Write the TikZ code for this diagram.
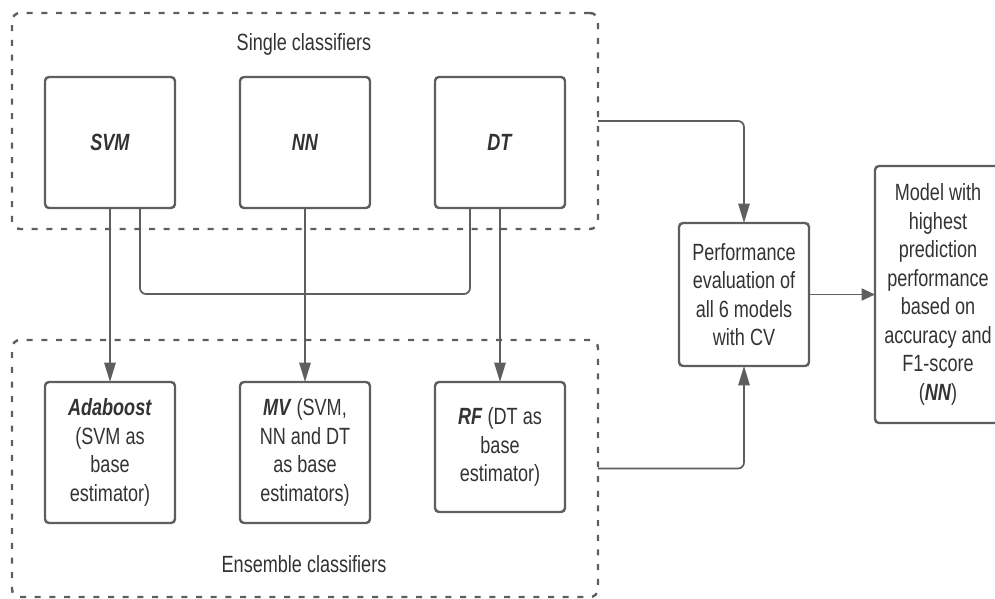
\documentclass[tikz,border=0pt]{standalone}
\usepackage{fontspec}
\setmainfont{Liberation Sans}[FakeStretch=0.77]
\usetikzlibrary{arrows.meta}

\tikzset{every picture/.style={line width=0.75pt}}

\begin{document}
\begin{tikzpicture}[x=0.75pt,y=0.75pt,yscale=-1,xscale=1,
  font=\fontsize{17.6}{21.4}\selectfont,
  text={rgb, 255:red, 51; green, 51; blue, 51 },
  box/.style={draw={rgb, 255:red, 94; green, 94; blue, 94 }, line width=1.8pt, rounded corners=3pt, inner sep=0pt, outer sep=0pt, align=center, minimum width=97.5pt},
  group/.style={draw={rgb, 255:red, 94; green, 94; blue, 94 }, line width=1.8pt, dash pattern={on 4.5pt off 6.5pt}, rounded corners=6pt, inner sep=0pt, outer sep=0pt, minimum width=439.5pt},
  link/.style={draw={rgb, 255:red, 94; green, 94; blue, 94 }, line width=1.3pt, rounded corners=4.5pt},
  varrow/.style={link, -{Triangle[length=14.5pt,width=8.5pt]}},
  harrow/.style={link, -{Triangle[length=10pt,width=9pt]}}]
\useasboundingbox (0,0) rectangle (995,599);
\clip (0,0) rectangle (995,599);

%Shape: Group boxes
\node [group, minimum height=162pt] (single) at (305,121) {};
\node [group, minimum height=192.75pt] (ensemble) at (305,468.5) {};

% Text Node
\node (singlelbl) at (304,44) {Single classifiers};
% Text Node
\node (enslbl) at (304,564) {Ensemble classifiers};

%Shape: Single classifiers
\node [box, minimum height=98.25pt] (svm) at (110,142.5) {\textbf{\textit{SVM}}};
\node [box, minimum height=98.25pt] (nn) at (305,142.5) {\textbf{\textit{NN}}};
\node [box, minimum height=98.25pt] (dt) at (500,142.5) {\textbf{\textit{DT}}};

%Shape: Ensemble classifiers
\node [box, minimum height=105.75pt] (ada) at (110,452.5) {\textbf{\textit{Adaboost}}\\(SVM as\\base\\estimator)};
\node [box, minimum height=105.75pt] (mv) at (305,452.5) {\textbf{\textit{MV}} (SVM,\\NN and DT\\as base\\estimators)};
\node [box, minimum height=97.5pt] (rf) at (500,447) {\textbf{\textit{RF}} (DT as\\base\\estimator)};

%Shape: Evaluation and result
\node [box, minimum height=107.25pt] (perf) at (744,294.5) {Performance\\evaluation of\\all 6 models\\with CV};
\node [box, minimum width=94.5pt, minimum height=192.75pt] (best) at (938,294.5) {Model with\\highest\\prediction\\performance\\based on\\accuracy and\\F1-score\\(\textbf{\textit{NN}})};

%Straight Lines
\coordinate (merge) at (305,294);
\draw [varrow] (svm) -- (ada);
\draw [link] ([xshift=22.5pt]svm.south) |- (merge) -| ([xshift=-22.5pt]dt.south);
\draw [varrow] (nn) -- (mv);
\draw [varrow] (dt) -- (rf);
\draw [varrow] (single.east) -| (perf.north);
\draw [varrow] (ensemble.east) -| (perf.south);
\draw [harrow] (perf) -- (best);

\end{tikzpicture}
\end{document}
